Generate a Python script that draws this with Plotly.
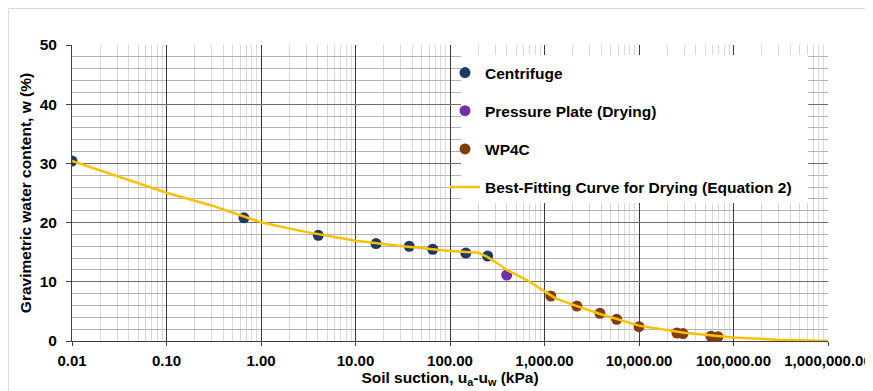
import plotly.graph_objects as go

# ---------------- data ----------------
centrifuge_x = [0.01, 0.66, 4.04, 16.5, 37, 65.6, 147, 250]
centrifuge_w = [30.4, 20.8, 17.85, 16.45, 16.0, 15.5, 14.86, 14.36]

pressure_x = [398]
pressure_w = [11.15]

wp4c_x = [1165, 2200, 3860, 5800, 10000, 25200, 29200, 57800, 68500]
wp4c_w = [7.6, 5.9, 4.68, 3.66, 2.42, 1.35, 1.25, 0.8, 0.72]

curve_x = [0.01, 0.03, 0.1, 0.3, 1, 2.6, 10, 30, 100, 200, 245, 320, 400,
           650, 1040, 1310, 2200, 3800, 10000, 30000, 100000, 300000, 1000000]
curve_w = [30.4, 27.8, 25.05, 22.9, 20.05, 18.6, 16.95, 16.05, 15.2, 14.9,
           14.25, 13.1, 12.0, 10.3, 8.3, 7.2, 5.9, 4.6, 2.6, 1.4, 0.6, 0.2, 0.0]

x_tickvals = [0.01, 0.1, 1, 10, 100, 1000, 10000, 100000, 1000000]
x_ticktext = ["0.01", "0.10", "1.00", "10.00", "100.00", "1,000.00",
              "10,000.00", "100,000.00", "1,000,000.00"]

names = ["Centrifuge", "Pressure Plate (Drying)", "WP4C",
         "Best-Fitting Curve for Drying (Equation 2)"]

# minor gridline positions (2..9 within each decade)
minor_x = [m * 10 ** d for d in range(-2, 6) for m in range(2, 10)]

FONT = "Liberation Sans, Arial, sans-serif"
FS = 15.5

fig = go.Figure()
fig.add_trace(go.Scatter(x=centrifuge_x, y=centrifuge_w, mode="markers", name=names[0],
                         legendgroup="a",
                         marker=dict(color="#1F3864", size=11)))
fig.add_trace(go.Scatter(x=pressure_x, y=pressure_w, mode="markers", name=names[1],
                         legendgroup="b",
                         marker=dict(color="#7030A0", size=11)))
fig.add_trace(go.Scatter(x=wp4c_x, y=wp4c_w, mode="markers", name=names[2],
                         legendgroup="c",
                         marker=dict(color="#843C0C", size=11)))
fig.add_trace(go.Scatter(x=curve_x, y=curve_w, mode="lines", name=names[3],
                         legendgroup="d",
                         line=dict(color="#FFC000", width=2.5)))

# page has an 8px body margin: figure occupies page (8,8)-(873,391)
OFF = 8
W, H = 873 - OFF, 391 - OFF
L, T = 72 - OFF, 45 - OFF
R = W - (828 - OFF)
B = H - (341 - OFF)
pw, ph = W - L - R, H - T - B


def px(page_x):
    return (page_x - OFF - L) / pw


def py(page_y):
    return (H - B - (page_y - OFF)) / ph


fig.update_layout(
    width=W, height=H,
    margin=dict(l=L, r=R, t=T, b=B, autoexpand=False),
    paper_bgcolor="white", plot_bgcolor="white",
    font=dict(family=FONT, size=FS, color="black", weight="bold"),
    showlegend=True,
    legend=dict(x=px(445), y=py(56), xanchor="left", yanchor="top",
                bgcolor="rgba(0,0,0,0)", tracegroupgap=15,
                font=dict(family=FONT, size=FS, color="black", weight="bold")),
    shapes=[
        # legend box covering the grid
        dict(type="rect", xref="paper", yref="paper",
             x0=px(461), x1=px(808), y0=py(203), y1=py(55),
             fillcolor="white", line=dict(width=0), layer="above"),
        # outer chart border (top/left visible)
        dict(type="rect", xref="paper", yref="paper",
             x0=px(8.5), x1=px(900), y0=py(420), y1=py(8.5),
             fillcolor="rgba(0,0,0,0)", line=dict(color="#dcdcdc", width=1),
             layer="below"),
    ],
)

fig.update_xaxes(
    type="log", range=[-2, 6], automargin=False,
    tickmode="array", tickvals=x_tickvals, ticktext=x_ticktext,
    tickfont=dict(family=FONT, size=15, weight="bold"),
    ticks="outside", ticklen=4, tickcolor="#404040", tickwidth=1,
    showgrid=True, gridcolor="#3a3a3a", gridwidth=1,
    minor=dict(tickmode="array", tickvals=minor_x, showgrid=True,
               gridcolor="#d9d9d9", gridwidth=1, ticks=""),
    showline=True, linecolor="#404040", linewidth=1, mirror=False,
    zeroline=False,
    ticklabelstandoff=2,
    title=dict(text="Soil suction, u<sub>a</sub>-u<sub>w</sub> (kPa)",
               font=dict(family=FONT, size=FS, weight="bold"), standoff=3),
)

fig.update_yaxes(
    range=[0, 50], tickmode="linear", tick0=0, dtick=10, automargin=False,
    tickfont=dict(family=FONT, size=FS, weight="bold"),
    ticks="outside", ticklen=5, tickcolor="#404040", tickwidth=1,
    showgrid=True, gridcolor="#6e6e6e", gridwidth=1,
    minor=dict(tickmode="linear", tick0=0, dtick=2, showgrid=True,
               gridcolor="#b4b4b4", gridwidth=1, ticks=""),
    showline=True, linecolor="#404040", linewidth=1,
    zeroline=False,
    ticklabelstandoff=6,
    title=dict(text="Gravimetric water content, w (%)",
               font=dict(family=FONT, size=FS, weight="bold"), standoff=4),
)

fig.write_html("out.html")
